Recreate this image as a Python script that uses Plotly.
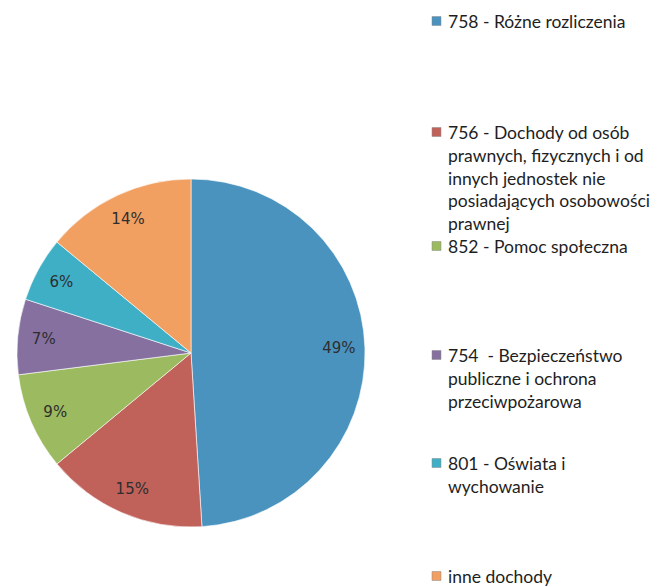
import plotly.graph_objects as go

labels = [
    "758 - Różne rozliczenia",
    "756 - Dochody od osób<br>prawnych, fizycznych i od<br>innych jednostek nie<br>posiadających osobowości<br>prawnej",
    "852 - Pomoc społeczna",
    "754  - Bezpieczeństwo<br>publiczne i ochrona<br>przeciwpożarowa",
    "801 - Oświata i<br>wychowanie",
    "inne dochody",
]
values = [49, 15, 9, 7, 6, 14]
colors = ["#4A93BF", "#C0615A", "#9CBA5F", "#8570A0", "#3FAFC6", "#F2A062"]
legend_y = [21, 132, 246, 355, 463, 576]  # first-line centre of each legend entry (px from top)

W, H = 660, 587
cx, cy, r = 191, 353, 174
dom = dict(x=[(cx - r) / W, (cx + r) / W], y=[(H - cy - r) / H, (H - cy + r) / H])

fig = go.Figure()
# coloured pie
fig.add_trace(go.Pie(
    labels=labels, values=values, sort=False, direction="clockwise", rotation=0,
    marker=dict(colors=colors, line=dict(color="rgba(255,255,255,0.6)", width=1)),
    textinfo="none", domain=dom, showlegend=False, hoverinfo="label+percent",
))
# transparent ring carrying the percentage labels near the rim
fig.add_trace(go.Pie(
    labels=labels, values=values, sort=False, direction="clockwise", rotation=0,
    hole=0.7,
    marker=dict(colors=["rgba(0,0,0,0)"] * len(values), line=dict(width=0)),
    texttemplate="%{percent:.0%}", textposition="inside",
    insidetextorientation="horizontal",
    textfont=dict(family="DejaVu Sans, Verdana, sans-serif", size=15, color="#2e2e2e"),
    domain=dom, showlegend=False, hoverinfo="skip",
))

sq = 9
for lab, col, y in zip(labels, colors, legend_y):
    fig.add_shape(type="rect", xref="paper", yref="paper",
                  x0=432 / W, x1=(432 + sq) / W,
                  y0=(H - y - sq / 2) / H, y1=(H - y + sq / 2) / H,
                  fillcolor=col, line=dict(color="#888", width=0.5))
    fig.add_annotation(xref="paper", yref="paper", x=446 / W, y=(H - y + 12) / H,
                       xanchor="left", yanchor="top", align="left",
                       text=lab, showarrow=False,
                       font=dict(family="Lato, Open Sans, sans-serif", size=17.5, color="#1e1e1e"))

fig.update_layout(
    width=W, height=H,
    margin=dict(l=0, r=0, t=0, b=0),
    paper_bgcolor="white", plot_bgcolor="white",
)
fig.write_html("out.html", config={"displayModeBar": False},
               post_script="document.body.style.margin='0';")
